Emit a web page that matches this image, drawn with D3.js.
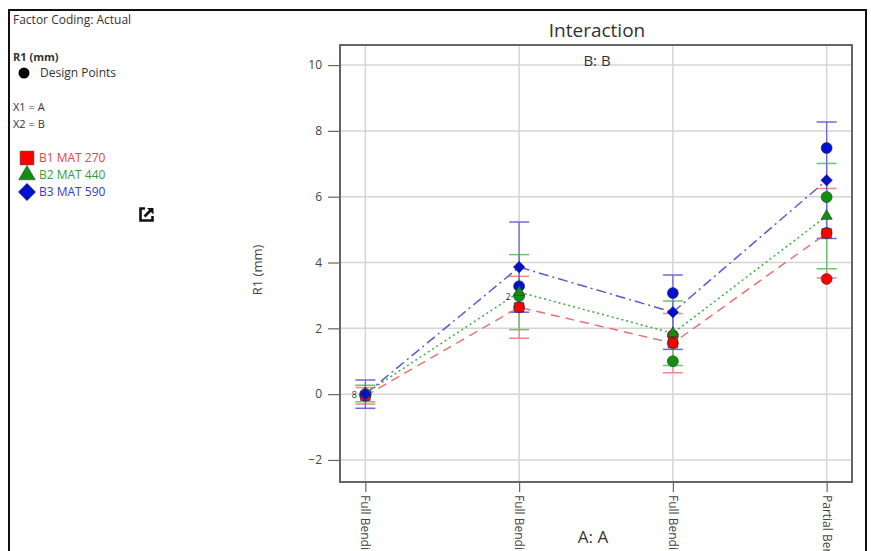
<!DOCTYPE html>
<html>
<head>
<meta charset="utf-8">
<script src="https://cdn.jsdelivr.net/npm/d3@7"></script>
<style>
  body { margin: 0; background: #fff; }
  svg { font-family: "Open Sans", "Noto Sans", sans-serif; }
</style>
</head>
<body>
<svg id="chart"></svg>
<script>
// categories on the x axis (A)
var categories = ["Full Bending", "Full Bending", "Full Bending", "Partial Bending"]
var seriesNames = ["B1 MAT 270", "B2 MAT 440", "B3 MAT 590"]
var yTicks = [-2, 0, 2, 4, 6, 8, 10]

// predicted means per category
var b1Means = [-0.05, 2.64, 1.55, 4.89]
var b2Means = [0.02, 3.1, 1.85, 5.41]
var b3Means = [0.0, 3.86, 2.49, 6.5]

// half width of the interval bars
var b1Half = [0.25, 0.94, 0.9, 1.36]
var b2Half = [0.25, 1.14, 0.98, 1.6]
var b3Half = [0.43, 1.37, 1.13, 1.77]

// design points [category index, value]
var b1Points = [[0, 0], [1, 2.64], [2, 1.79], [2, 1.55], [3, 3.5], [3, 4.9]]
var b2Points = [[0, 0], [1, 2.98], [2, 1.0], [3, 5.99]]
var b3Points = [[0, -0.05], [1, 3.28], [2, 3.07], [3, 7.48]]

// point count labels [category index, value, text]
var countLabels = [[0, 0, "8"], [1, 2.98, "2"]]

var series = [
  { name: seriesNames[0], means: b1Means, half: b1Half, points: b1Points,
    fill: "#ff0000", line: "#ec7070", bar: "#f08888", text: "#e04848", dash: "9,6", shape: d3.symbolSquare },
  { name: seriesNames[1], means: b2Means, half: b2Half, points: b2Points,
    fill: "#109010", line: "#3faa3f", bar: "#70c070", text: "#3a9a3a", dash: "2,3", shape: d3.symbolTriangle },
  { name: seriesNames[2], means: b3Means, half: b3Half, points: b3Points,
    fill: "#0010d0", line: "#5a5ad0", bar: "#6a6ae0", text: "#3a3ad0", dash: "10,4,2,4", shape: d3.symbolDiamond2 }
]

const W = 871, H = 551
const svg = d3.select("#chart").attr("width", W).attr("height", H)

// outer frame of the picture
svg.append("path")
  .attr("d", `M9,${H + 5} L9,10 L866,10 L866,${H + 5}`)
  .attr("fill", "none").attr("stroke", "#111").attr("stroke-width", 2)

const plot = { left: 340, right: 852, top: 45, bottom: 482 }

const x = d3.scalePoint()
  .domain(d3.range(categories.length))
  .range([plot.left, plot.right])
  .padding(0.165)

const y = d3.scaleLinear()
  .domain([-2.67, 10.61])
  .range([plot.bottom, plot.top])

// grid
svg.append("g").selectAll("line.hgrid").data(yTicks).join("line")
  .attr("x1", plot.left).attr("x2", plot.right)
  .attr("y1", d => y(d)).attr("y2", d => y(d))
  .attr("stroke", "#d4d4d4").attr("stroke-width", 1.5)
svg.append("g").selectAll("line.vgrid").data(d3.range(categories.length)).join("line")
  .attr("x1", d => x(d)).attr("x2", d => x(d))
  .attr("y1", plot.top).attr("y2", plot.bottom)
  .attr("stroke", "#d4d4d4").attr("stroke-width", 1.5)

// axes
const yAxis = svg.append("g")
  .attr("transform", `translate(${plot.left},0)`)
  .call(d3.axisLeft(y).tickValues(yTicks).tickSize(12).tickPadding(6))
yAxis.select(".domain").remove()
yAxis.selectAll("line").attr("stroke", "#666").attr("stroke-width", 1.2)
yAxis.selectAll("text").attr("font-size", 12).attr("fill", "#444")
  .attr("font-family", "'Open Sans', sans-serif")

const xAxis = svg.append("g")
  .attr("transform", `translate(0,${plot.bottom})`)
  .call(d3.axisBottom(x).tickSize(10).tickFormat(i => categories[i]))
xAxis.select(".domain").remove()
xAxis.selectAll("line").attr("stroke", "#666").attr("stroke-width", 1.2)
xAxis.selectAll("text")
  .attr("font-size", 12).attr("fill", "#444")
  .attr("font-family", "'Open Sans', sans-serif")
  .attr("text-anchor", "start")
  .attr("dy", null)
  .attr("y", 0)
  .attr("dominant-baseline", "central")
  .attr("transform", "translate(0,13) rotate(90)")

// plot frame
svg.append("rect")
  .attr("x", plot.left).attr("y", plot.top)
  .attr("width", plot.right - plot.left).attr("height", plot.bottom - plot.top)
  .attr("fill", "none").attr("stroke", "#666").attr("stroke-width", 2)

// interval bars
series.forEach(function (s) {
  const g = svg.append("g")
  const idx = d3.range(categories.length)
  g.selectAll("line.bar").data(idx).join("line")
    .attr("x1", i => x(i)).attr("x2", i => x(i))
    .attr("y1", i => y(s.means[i] - s.half[i])).attr("y2", i => y(s.means[i] + s.half[i]))
    .attr("stroke", s.bar).attr("stroke-width", 1.3)
  g.selectAll("line.capTop").data(idx).join("line")
    .attr("x1", i => x(i) - 10).attr("x2", i => x(i) + 10)
    .attr("y1", i => y(s.means[i] + s.half[i])).attr("y2", i => y(s.means[i] + s.half[i]))
    .attr("stroke", s.bar).attr("stroke-width", 1.5)
  g.selectAll("line.capBot").data(idx).join("line")
    .attr("x1", i => x(i) - 10).attr("x2", i => x(i) + 10)
    .attr("y1", i => y(s.means[i] - s.half[i])).attr("y2", i => y(s.means[i] - s.half[i]))
    .attr("stroke", s.bar).attr("stroke-width", 1.5)
})

// interaction lines
const line = d3.line().x((d, i) => x(i)).y(d => y(d))
series.forEach(function (s) {
  svg.append("path")
    .attr("d", line(s.means))
    .attr("fill", "none")
    .attr("stroke", s.line)
    .attr("stroke-width", 1.5)
    .attr("stroke-dasharray", s.dash)
})

// design points
series.forEach(function (s) {
  svg.append("g").selectAll("circle").data(s.points).join("circle")
    .attr("cx", d => x(d[0])).attr("cy", d => y(d[1]))
    .attr("r", 5.5)
    .attr("fill", s.fill).attr("stroke", "#333").attr("stroke-width", 0.6)
})

// mean markers
function markerSize(s, legend) {
  if (s.shape === d3.symbolSquare) return legend ? 190 : 90
  if (s.shape === d3.symbolTriangle) return legend ? 120 : 55
  return legend ? 190 : 85
}
series.forEach(function (s) {
  svg.append("g").selectAll("path").data(s.means).join("path")
    .attr("transform", (d, i) => `translate(${x(i)},${y(d)})`)
    .attr("d", d3.symbol().type(s.shape).size(markerSize(s, false)))
    .attr("fill", s.fill).attr("stroke", "#333").attr("stroke-width", 0.6)
})

// count labels
svg.append("g").selectAll("text").data(countLabels).join("text")
  .attr("x", d => x(d[0]) - 11).attr("y", d => y(d[1]))
  .attr("dominant-baseline", "central").attr("text-anchor", "middle")
  .attr("font-size", 9).attr("fill", "#333")
  .text(d => d[2])

// titles
svg.append("text").attr("x", 597).attr("y", 37).attr("text-anchor", "middle")
  .attr("font-size", 19).attr("fill", "#333").text("Interaction")
svg.append("text").attr("x", 597).attr("y", 66).attr("text-anchor", "middle")
  .attr("font-size", 15).attr("fill", "#333").text("B: B")
svg.append("text").attr("x", 593).attr("y", 543).attr("text-anchor", "middle")
  .attr("font-size", 17).attr("fill", "#333").text("A: A")
svg.append("text")
  .attr("transform", "translate(262,270) rotate(-90)")
  .attr("text-anchor", "middle")
  .attr("font-size", 13).attr("fill", "#444").text("R1 (mm)")

// left legend
const leg = svg.append("g").attr("font-size", 12).attr("fill", "#333")
leg.append("text").attr("x", 13).attr("y", 24).text("Factor Coding: Actual")
leg.append("text").attr("x", 13).attr("y", 61).attr("font-weight", "bold").attr("font-size", 11).text("R1 (mm)")
leg.append("circle").attr("cx", 24).attr("cy", 73).attr("r", 5.5).attr("fill", "#000")
leg.append("text").attr("x", 40).attr("y", 77).text("Design Points")
leg.append("text").attr("x", 13).attr("y", 111).attr("font-size", 11).text("X1 = A")
leg.append("text").attr("x", 13).attr("y", 128).attr("font-size", 11).text("X2 = B")

series.forEach(function (s, i) {
  const cy = 158 + i * 17
  leg.append("path")
    .attr("transform", `translate(27,${cy})`)
    .attr("d", d3.symbol().type(s.shape).size(markerSize(s, true)))
    .attr("fill", s.fill).attr("stroke", "#333").attr("stroke-width", 0.5)
  leg.append("text").attr("x", 39).attr("y", cy + 4)
    .attr("fill", s.text).text(s.name)
})

// export icon
const icon = svg.append("g").attr("transform", "translate(139,207)")
icon.append("path")
  .attr("d", "M6,1.5 L1.5,1.5 L1.5,13.5 L13.5,13.5 L13.5,9")
  .attr("fill", "none").attr("stroke", "#111").attr("stroke-width", 2.6)
icon.append("path")
  .attr("d", "M5.5,9.5 L12,3")
  .attr("fill", "none").attr("stroke", "#111").attr("stroke-width", 2.6)
icon.append("path")
  .attr("d", "M8,1 L14.5,1 L14.5,7.5 Z")
  .attr("fill", "#111")
</script>
</body>
</html>
